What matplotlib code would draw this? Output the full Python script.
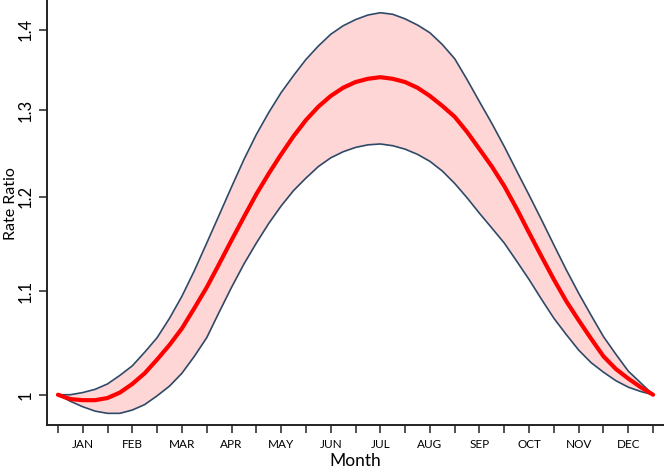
import numpy as np
import matplotlib
matplotlib.use("Agg")
import matplotlib.pyplot as plt
from matplotlib.ticker import FixedLocator, NullLocator

# month position (0 = start of Jan, 12 = end of Dec), every quarter month
month_pos = [0, 0.25, 0.5, 0.75, 1, 1.25, 1.5, 1.75, 2, 2.25, 2.5, 2.75,
             3, 3.25, 3.5, 3.75, 4, 4.25, 4.5, 4.75, 5, 5.25, 5.5, 5.75,
             6, 6.25, 6.5, 6.75, 7, 7.25, 7.5, 7.75, 8, 8.25, 8.5, 8.75,
             9, 9.25, 9.5, 9.75, 10, 10.25, 10.5, 10.75, 11, 11.25, 11.5,
             11.75, 12]

rr_est = [1.000, 0.996, 0.995, 0.995, 0.997, 1.002, 1.010, 1.020,
          1.033, 1.047, 1.063, 1.083, 1.104, 1.128, 1.153, 1.178,
          1.203, 1.226, 1.248, 1.269, 1.288, 1.304, 1.317, 1.327,
          1.334, 1.338, 1.340, 1.338, 1.334, 1.327, 1.317, 1.305,
          1.292, 1.274, 1.254, 1.234, 1.212, 1.187, 1.161, 1.136,
          1.112, 1.090, 1.071, 1.053, 1.036, 1.024, 1.015, 1.007, 1.000]
rr_upper = [1.000, 1.000, 1.002, 1.005, 1.010, 1.018, 1.027, 1.040,
            1.054, 1.073, 1.095, 1.121, 1.150, 1.180, 1.211, 1.242,
            1.271, 1.297, 1.321, 1.342, 1.362, 1.379, 1.394, 1.405,
            1.413, 1.419, 1.422, 1.420, 1.414, 1.406, 1.396, 1.381,
            1.363, 1.337, 1.310, 1.284, 1.257, 1.229, 1.202, 1.175,
            1.148, 1.122, 1.098, 1.076, 1.055, 1.038, 1.022, 1.011, 1.000]
rr_lower = [1.000, 0.994, 0.989, 0.985, 0.983, 0.983, 0.986, 0.991,
            0.999, 1.008, 1.020, 1.036, 1.054, 1.079, 1.104, 1.128,
            1.150, 1.171, 1.190, 1.207, 1.221, 1.234, 1.244, 1.251,
            1.256, 1.259, 1.260, 1.258, 1.254, 1.248, 1.240, 1.229,
            1.215, 1.199, 1.182, 1.166, 1.150, 1.131, 1.112, 1.092,
            1.073, 1.057, 1.042, 1.030, 1.021, 1.013, 1.007, 1.003, 1.000]

month_labels = ['JAN', 'FEB', 'MAR', 'APR', 'MAY', 'JUN',
                'JUL', 'AUG', 'SEP', 'OCT', 'NOV', 'DEC']
y_ticks = [1.0, 1.1, 1.2, 1.3, 1.4]
y_ticklabels = ['1', '1.1', '1.2', '1.3', '1.4']

plt.rcParams['font.family'] = ['Lato', 'DejaVu Sans']

fig = plt.figure(figsize=(6.64, 4.68), dpi=100)
ax = fig.add_axes([0.0708, 0.0919, 0.9292, 0.9081])

ax.fill_between(month_pos, rr_lower, rr_upper, color='#ffd6d6', lw=0)
ax.plot(month_pos, rr_upper, color='#2e4a68', lw=1.2)
ax.plot(month_pos, rr_lower, color='#2e4a68', lw=1.2)
ax.plot(month_pos, rr_est, color='#ff0000', lw=3, solid_capstyle='round')

ax.set_yscale('log')
ax.set_xlim(-0.22, 12.22)
ax.set_ylim(0.9725, 1.4388)

ax.yaxis.set_major_locator(FixedLocator(y_ticks))
ax.yaxis.set_minor_locator(NullLocator())
ax.set_yticklabels(y_ticklabels, rotation=90, va='center', fontsize=12)

# ticks at month edges and mid-months, labels only at mid-months
ax.set_xticks(np.arange(0, 12.5, 0.5))
ax.set_xticklabels(['' if i % 2 == 0 else month_labels[i // 2]
                    for i in range(25)], fontsize=8.5)

ax.tick_params(axis='both', direction='out', length=6, width=1.1,
               color='#222222')
ax.tick_params(axis='y', pad=4)
ax.tick_params(axis='x', pad=4)

for side in ['top', 'right']:
    ax.spines[side].set_visible(False)
for side in ['left', 'bottom']:
    ax.spines[side].set_linewidth(1.4)
    ax.spines[side].set_color('#222222')

ax.set_xlabel('Month', fontsize=12.5, labelpad=2)
ax.set_ylabel('Rate Ratio', fontsize=11.5)
ax.yaxis.set_label_coords(-0.047, 0.52)

fig.savefig('out.png', dpi=100)
